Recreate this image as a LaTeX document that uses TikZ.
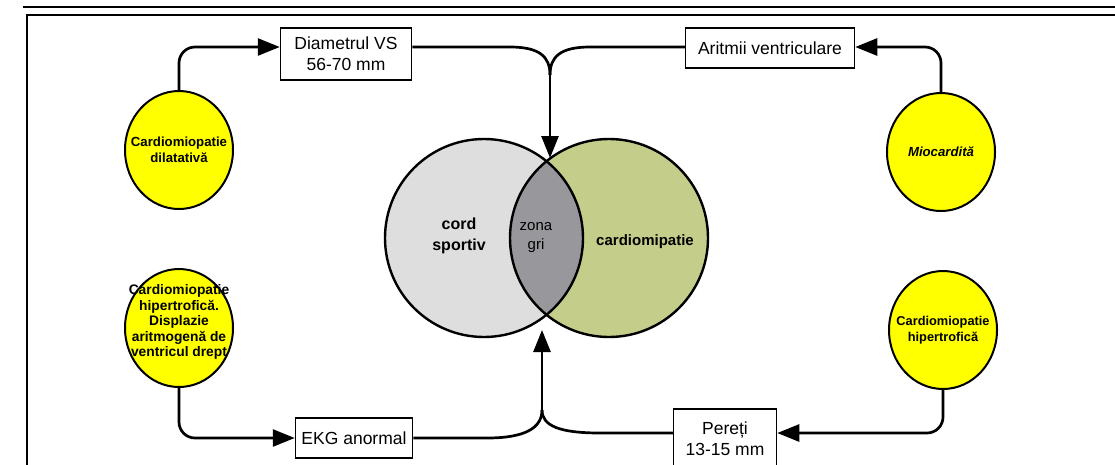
\documentclass[tikz,border=0pt]{standalone}
\usepackage{fontspec}
\setmainfont{Liberation Sans}
\setsansfont{Liberation Sans}
\usetikzlibrary{arrows.meta,shapes.geometric}
\definecolor{sportgray}{RGB}{222,222,222}
\definecolor{cardgreen}{RGB}{196,206,138}
\definecolor{lensgray}{RGB}{152,152,156}
\definecolor{bubbleyellow}{RGB}{255,255,0}
\begin{document}
\begin{tikzpicture}[x=1pt, y=-1pt, font=\sffamily,
    boxnode/.style={draw, line width=1.5pt, fill=white, inner sep=2pt, align=center,
      font=\sffamily\fontsize{17.5}{21}\selectfont},
    bubble/.style={ellipse, draw, line width=2pt, fill=bubbleyellow,
      minimum width=108pt, minimum height=118pt, inner sep=0pt},
    bubbletext/.style={align=center, inner sep=0pt, font=\sffamily\bfseries\fontsize{13.2}{15.5}\selectfont},
    vennring/.style={circle, draw, line width=2.4pt, minimum size=198pt, inner sep=0pt},
    vennbold/.style={align=center, font=\sffamily\bfseries\fontsize{16}{21}\selectfont},
    flow/.style={line width=2.7pt},
    flowarrow/.style={flow, -{Triangle[length=22pt,width=17pt]}},
    elbow/.style={flowarrow, rounded corners=16pt}]
        \useasboundingbox (0,0) rectangle (1115,464);
        % page frame
        \draw[line width=1.4pt] (23,7) -- (1120,7);
        \draw[line width=2pt] (27,475) -- (27,15) -- (1120,15);

        % venn
        \fill[sportgray] (484,238) circle (99pt);
        \fill[cardgreen] (609,238) circle (99pt);
        \begin{scope}
          \clip (484,238) circle (99pt);
          \fill[lensgray] (609,238) circle (99pt);
        \end{scope}
        \node[vennring] (sport) at (484,238) {};
        \node[vennring] (cardio) at (609,238) {};
        \node[vennbold] (sporttext) at (459,236) {cord\\sportiv};
        \node[align=center, font=\sffamily\fontsize{15}{19}\selectfont] (zonatext) at (536,238) {zona\\gri};
        \node[vennbold, font=\sffamily\bfseries\fontsize{15}{21}\selectfont] (cardtext) at (645,242) {cardiomipatie};

        % junctions and tips
        \coordinate (jtop) at (550,75);
        \coordinate (lenstop) at (550,158);
        \coordinate (jbot) at (542,410);
        \coordinate (lensbot) at (542,330);

        % boxes
        \node[boxnode, minimum width=131pt, minimum height=52pt] (diam) at (346,54) {Diametrul VS\\56-70 mm};
        \node[boxnode, minimum width=169pt, minimum height=40pt] (aritm) at (770,48) {Aritmii ventriculare};
        \node[boxnode, minimum width=117pt, minimum height=40pt] (ekg) at (354,438) {EKG anormal};
        \node[boxnode, minimum width=103pt, minimum height=60pt] (pereti) at (725,439) {Pereți\\13-15 mm};

        % bubbles
        \node[bubble] (dil) at (179,150) {};
        \node[bubbletext] (diltext) at (dil) {Cardiomiopatie\\dilatativă};
        \node[bubble] (mio) at (941,152) {};
        \node[bubbletext, font=\sffamily\bfseries\itshape\fontsize{13.2}{15.5}\selectfont] (miotext) at (mio) {Miocardită};
        \node[bubble] (hipl) at (179,328) {};
        \node[bubbletext, font=\sffamily\bfseries\fontsize{13.8}{15.5}\selectfont] (hipltext) at (179,322)
          {Cardiomiopatie\\hipertrofică.\\Displazie\\aritmogenă de\\ventricul drept};
        \node[bubble] (hipr) at (943,330) {};
        \node[bubbletext, font=\sffamily\bfseries\fontsize{12.8}{15.5}\selectfont] (hiprtext) at (hipr) {Cardiomiopatie\\hipertrofică};

        % top merge
        \draw[flow] ([yshift=7pt]diam.east) -- (510,47) .. controls (540,47) and (550,57) .. (jtop);
        \draw[flow] ([yshift=1pt]aritm.west) -- (590,47) .. controls (560,47) and (550,57) .. (jtop);
        \draw[flowarrow] (jtop) -- (lenstop);
        % bottom merge
        \draw[flow] (ekg.east) -- (487,438) .. controls (525,438) and (542,428) .. (jbot);
        \draw[flow] ([yshift=6pt]pereti.west) -- (600,433) .. controls (560,433) and (542,426) .. (jbot);
        \draw[flowarrow] (jbot) -- (lensbot);

        % bubbles to boxes
        \draw[elbow] (dil.north) |- ([yshift=7pt]diam.west);
        \draw[elbow] (mio.north) |- ([yshift=1pt]aritm.east);
        \draw[elbow] (hipl.south) |- (ekg.west);
        \draw[elbow] (hipr.south) |- ([yshift=6pt]pereti.east);

\end{tikzpicture}
\end{document}
